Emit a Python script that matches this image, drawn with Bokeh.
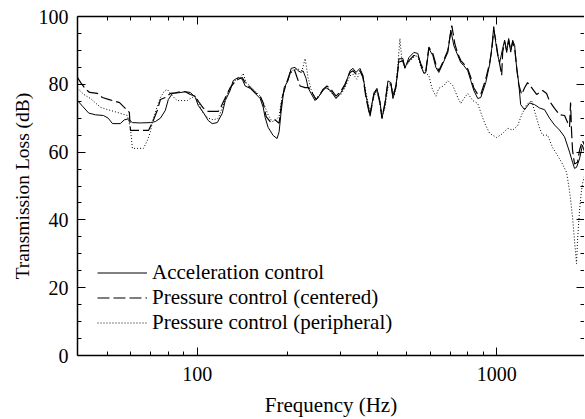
from bokeh.plotting import figure
from bokeh.models import (Range1d, LogAxis, LinearAxis, FixedTicker, Legend, LegendItem,
                          PrintfTickFormatter)
from bokeh.embed import file_html
from bokeh.resources import INLINE

# ---------------- data ----------------
freq_acc = [39.8, 41.4, 43.4, 45.7, 48.6, 50.4, 52.1, 55.3, 57.0, 58.8,
            60.7, 64.6, 69.7, 72.4, 75.3, 78.2, 80.0, 82.6, 86.5, 91.2,
            94.8, 98.5, 100.8, 104.7, 108.8, 112.2, 116.6, 121.1, 124.0, 128.8,
            131.8, 137.0, 141.3, 144.5, 150.2, 156.1, 162.2, 166.0, 168.5, 172.4,
            179.2, 184.7, 187.6, 190.6, 195.0, 201.0, 205.8, 212.1, 217.0, 222.1,
            225.5, 230.9, 234.4, 239.8, 247.3, 253.1, 263.0, 269.1, 279.6, 290.6,
            301.9, 311.3, 323.6, 331.1, 338.8, 349.3, 357.4, 365.9, 377.2, 389.0,
            398.1, 407.4, 413.7, 423.3, 433.2, 443.3, 450.1, 460.6, 471.4, 486.1,
            493.6, 509.0, 528.9, 545.3, 558.1, 571.1, 579.8, 593.4, 611.9, 626.1,
            640.7, 660.7, 686.5, 702.6, 719.0, 741.3, 758.6, 776.3, 800.5, 819.1,
            838.2, 864.4, 884.5, 919.0, 947.7, 962.4, 977.3, 992.4, 1007.7, 1023,
            1046.8, 1063, 1079.5, 1096.2, 1113.5, 1130.7, 1148, 1165.8, 1183.8, 1202.2,
            1239, 1288, 1338, 1391, 1445, 1501, 1560, 1621, 1685, 1751,
            1791.8, 1819, 1847.2, 1890, 1934, 1964]
tl_acc = [75.2, 73.5, 71.5, 71.0, 70.8, 70.0, 68.4, 68.4, 69.5, 69.8,
          68.7, 68.6, 68.7, 69.0, 70.0, 72.3, 75.5, 77.3, 77.5, 77.8,
          77.6, 76.1, 73.7, 71.7, 69.3, 68.4, 68.7, 71.4, 75.2, 78.2,
          81.1, 82.0, 81.5, 79.5, 78.8, 77.3, 75.8, 73.2, 70.2, 67.3,
          64.9, 64.0, 66.0, 72.0, 79.0, 81.1, 84.7, 85.0, 84.0, 83.5,
          84.0, 81.7, 79.0, 77.3, 75.2, 76.1, 78.2, 79.0, 78.0, 75.8,
          77.6, 79.6, 84.0, 84.7, 83.5, 84.7, 82.6, 76.7, 71.0, 77.5,
          78.8, 75.0, 70.0, 74.0, 81.0, 80.5, 75.8, 79.0, 87.5, 87.6,
          84.7, 87.9, 89.4, 89.1, 85.5, 83.2, 83.5, 90.5, 88.5, 85.0,
          83.5, 86.1, 89.4, 96.0, 91.4, 88.5, 86.4, 85.5, 84.0, 81.1,
          78.2, 75.8, 76.1, 80.5, 86.0, 90.6, 97.0, 92.3, 88.5, 86.4,
          90.6, 93.0, 89.4, 93.5, 89.5, 93.0, 91.4, 84.7, 80.5, 74.0,
          72.5, 74.5, 74.0, 73.0, 72.5, 70.0, 68.0, 66.5, 64.5, 60.0,
          57.0, 55.2, 55.5, 58.0, 62.0, 60.0]

freq_cen = [39.8, 40.8, 42.4, 43.7, 46.4, 48.2, 50.8, 55.0, 56.6, 57.5,
            59.3, 59.8, 68.7, 70.8, 73.5, 75.3, 78.2, 81.3, 84.5, 87.8,
            91.2, 94.8, 98.5, 100.8, 104.7, 108.8, 113.1, 117.5, 120.2, 124.0,
            128.8, 132.8, 137.0, 141.3, 144.5, 150.2, 156.1, 162.2, 166.0, 169.8,
            175.1, 181.9, 187.6, 192.0, 197.9, 204.2, 210.6, 215.4, 220.4, 229.1,
            236.2, 241.7, 249.2, 255.0, 263.0, 271.1, 279.6, 290.6, 301.9, 311.3,
            323.6, 331.1, 338.8, 349.3, 357.4, 365.9, 377.2, 389.0, 398.1, 407.4,
            413.7, 423.3, 433.2, 443.3, 450.1, 460.6, 471.4, 486.1, 493.6, 509.0,
            528.9, 545.3, 558.1, 571.1, 579.8, 593.4, 611.9, 626.1, 640.7, 660.7,
            686.5, 708.0, 724.4, 741.3, 758.6, 776.3, 800.5, 819.1, 838.2, 864.4,
            884.5, 919.0, 947.7, 962.4, 977.3, 992.4, 1007.7, 1023, 1038.9, 1046.8,
            1063, 1079.5, 1096.2, 1113.5, 1130.7, 1148, 1165.8, 1183.8, 1211.5, 1239,
            1267.9, 1308, 1358.7, 1391, 1423.4, 1467.4, 1501, 1560, 1621, 1685,
            1724.3, 1751, 1764.5, 1778.1, 1791.8, 1819, 1861.4, 1890, 1934, 1964]
tl_cen = [82.0, 80.5, 78.5, 77.6, 77.3, 76.1, 75.5, 74.6, 73.5, 72.9,
          71.7, 66.4, 66.4, 68.7, 72.3, 75.5, 76.1, 77.3, 77.5, 77.8,
          77.8, 77.0, 76.5, 75.0, 73.0, 72.0, 72.0, 72.0, 73.5, 76.0,
          79.0, 80.5, 81.5, 82.0, 80.5, 79.0, 77.5, 76.5, 74.5, 70.5,
          69.0, 69.5, 68.5, 76.0, 80.0, 83.5, 84.5, 82.0, 79.5, 79.0,
          79.0, 77.5, 75.5, 76.5, 78.5, 79.5, 78.5, 76.5, 78.0, 80.0,
          83.5, 84.0, 83.0, 84.0, 82.0, 76.0, 70.5, 77.0, 78.5, 74.5,
          69.9, 74.5, 80.5, 80.0, 76.5, 79.5, 86.5, 87.0, 85.0, 87.0,
          88.5, 88.5, 86.0, 84.0, 84.0, 91.0, 89.0, 86.0, 84.0, 86.5,
          90.0, 97.3, 92.0, 89.0, 87.0, 86.0, 84.5, 82.0, 79.0, 77.0,
          77.0, 81.5, 86.5, 90.0, 96.0, 93.0, 89.0, 86.0, 82.6, 89.5,
          92.5, 90.0, 93.0, 90.0, 92.5, 90.5, 85.0, 80.0, 77.0, 79.0,
          80.5, 79.0, 77.0, 77.6, 78.2, 77.3, 75.0, 72.9, 71.0, 70.8,
          68.7, 67.5, 74.6, 66.0, 60.5, 56.5, 57.0, 60.5, 63.4, 62.0]

freq_per = [39.8, 41.8, 44.0, 47.5, 50.4, 54.1, 58.4, 59.8, 60.7, 66.1,
            68.1, 69.7, 71.3, 73.5, 75.3, 77.6, 79.4, 81.3, 83.8, 85.8,
            92.6, 95.5, 98.5, 100.8, 104.7, 108.8, 113.1, 117.5, 121.1, 125.0,
            129.8, 134.9, 139.1, 142.3, 145.6, 150.2, 156.1, 162.2, 167.3, 172.4,
            177.8, 183.3, 187.6, 192.0, 197.9, 204.2, 210.6, 217.0, 223.8, 229.1,
            234.4, 239.8, 247.3, 255.0, 263.0, 271.1, 279.6, 290.6, 301.9, 311.3,
            323.6, 331.1, 341.4, 349.3, 357.4, 365.9, 377.2, 389.0, 398.1, 407.4,
            413.7, 423.3, 433.2, 443.3, 453.6, 460.6, 467.8, 475.0, 482.4, 493.6,
            509.0, 528.9, 545.3, 558.1, 571.1, 584.3, 593.4, 607.3, 616.7, 626.1,
            640.7, 665.8, 686.5, 713.4, 741.3, 758.6, 776.3, 800.5, 831.7, 864.4,
            884.5, 912.0, 947.7, 1000.1, 1046.8, 1087.8, 1130.7, 1174.7, 1211.5, 1258.2,
            1308, 1358.7, 1391, 1423.4, 1478.7, 1536, 1596.3, 1646.1, 1711.1, 1751,
            1791.8, 1819, 1847.2, 1861.4, 1890, 1919.3, 1934, 1964]
tl_per = [78.8, 77.0, 75.8, 73.2, 72.5, 71.7, 70.8, 67.0, 61.1, 61.1,
          63.4, 66.0, 69.9, 73.5, 76.1, 78.0, 78.5, 77.3, 76.0, 75.2,
          75.2, 76.0, 76.5, 74.5, 71.5, 70.0, 69.5, 70.0, 73.0, 76.5,
          79.5, 81.5, 82.0, 83.2, 80.5, 79.5, 78.0, 76.5, 74.0, 71.0,
          69.0, 69.5, 70.5, 76.5, 80.0, 83.0, 84.5, 84.5, 84.0, 87.6,
          82.0, 78.5, 76.0, 76.5, 78.5, 79.5, 77.5, 76.0, 77.0, 79.0,
          82.5, 83.0, 81.5, 84.0, 82.5, 77.5, 72.0, 76.5, 78.0, 74.0,
          70.5, 73.0, 79.0, 80.0, 76.5, 79.0, 86.0, 93.5, 87.0, 85.0,
          86.5, 88.0, 88.5, 85.0, 83.5, 83.0, 82.6, 79.0, 77.6, 76.5,
          78.8, 79.6, 81.1, 79.6, 76.1, 74.3, 75.8, 77.3, 75.2, 74.3,
          71.7, 68.5, 65.5, 64.3, 65.5, 67.0, 66.5, 67.8, 71.0, 74.0,
          75.2, 70.0, 67.0, 65.0, 65.0, 61.4, 59.0, 57.0, 54.0, 48.5,
          40.7, 33.9, 27.1, 33.9, 42.8, 48.7, 50.7, 53.0]

series_names = ["Acceleration control", "Pressure control (centered)",
                "Pressure control (peripheral)"]
x_major = [100, 1000]
x_minor = [50, 60, 70, 80, 90, 200, 300, 400, 500, 600, 700, 800, 900]
y_major = [0, 20, 40, 60, 80, 100]
y_minor = [5, 10, 15, 25, 30, 35, 45, 50, 55, 65, 70, 75, 85, 90, 95]

FONT = "Liberation Serif"

p = figure(frame_width=507, frame_height=339, output_backend="svg", toolbar_location=None,
           x_axis_type="log", x_range=Range1d(39.8, 1964), y_range=Range1d(0, 100),
           min_border_left=77, min_border_right=0, min_border_top=16,
           min_border_bottom=64)
p.outline_line_color = None
p.xgrid.visible = False
p.ygrid.visible = False
p.background_fill_color = "white"
p.border_fill_color = "white"

def style_axis(ax, labels=True):
    ax.axis_line_color = "black"
    ax.axis_line_width = 1.5
    ax.major_tick_line_color = "black"
    ax.minor_tick_line_color = "black"
    ax.major_tick_in = 8
    ax.major_tick_out = 0
    ax.minor_tick_in = 4
    ax.minor_tick_out = 0
    if labels:
        ax.major_label_text_font = FONT
        ax.major_label_text_font_size = "20px"
        ax.major_label_text_color = "black"
        ax.axis_label_text_font = FONT
        ax.axis_label_text_font_size = "21px"
        ax.axis_label_text_font_style = "normal"
        ax.axis_label_text_color = "black"
    else:
        ax.major_label_text_font_size = "1px"
        ax.major_label_text_alpha = 0
        ax.major_label_standoff = 0

p.xaxis.ticker = FixedTicker(ticks=x_major, minor_ticks=x_minor)
p.xaxis.formatter = PrintfTickFormatter(format="%d")
p.yaxis.ticker = FixedTicker(ticks=y_major, minor_ticks=y_minor)
p.xaxis.axis_label = "Frequency (Hz)"
p.yaxis.axis_label = "Transmission Loss (dB)"
for ax in p.xaxis + p.yaxis:
    style_axis(ax)
p.yaxis.axis_label_text_font_size = "19.5px"
p.xaxis.major_label_standoff = 11
p.xaxis.axis_label_standoff = 9
p.yaxis.major_label_standoff = 9
p.yaxis.axis_label_standoff = 3

top = LogAxis(ticker=FixedTicker(ticks=x_major, minor_ticks=x_minor))
style_axis(top, labels=False)
p.add_layout(top, "above")
right = LinearAxis(ticker=FixedTicker(ticks=y_major, minor_ticks=y_minor))
style_axis(right, labels=False)
right.axis_line_color = None
p.add_layout(right, "right")

r1 = p.line(freq_acc, tl_acc, line_color="black", line_width=1)
r2 = p.line(freq_cen, tl_cen, line_color="black", line_width=1.2, line_dash="12 4")
r3 = p.line(freq_per, tl_per, line_color="black", line_width=1, line_dash="1 2")

legend = Legend(items=[LegendItem(label=series_names[0], renderers=[r1]),
                       LegendItem(label=series_names[1], renderers=[r2]),
                       LegendItem(label=series_names[2], renderers=[r3])],
                location=(20, 20), glyph_width=50, glyph_height=25,
                label_height=25, label_standoff=5, spacing=0, padding=0,
                margin=0, border_line_color=None, background_fill_alpha=0,
                label_text_font=FONT, label_text_font_size="21px",
                label_text_color="black")
p.add_layout(legend, "center")

open("out.html", "w").write(file_html(p, INLINE))
